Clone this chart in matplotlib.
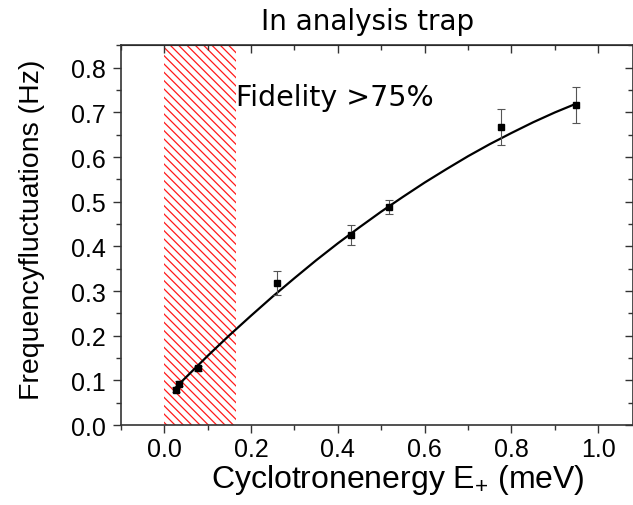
import numpy as np
import matplotlib
matplotlib.use('Agg')
import matplotlib.pyplot as plt
from matplotlib.ticker import MultipleLocator, FormatStrFormatter, NullFormatter

plt.rcParams['font.family'] = ['Liberation Sans', 'DejaVu Sans']
plt.rcParams['mathtext.fontset'] = 'custom'
plt.rcParams['mathtext.rm'] = 'Liberation Sans'
plt.rcParams['mathtext.default'] = 'regular'
plt.rcParams['hatch.linewidth'] = 0.9

# measured points
energy = [0.028, 0.033, 0.078, 0.260, 0.431, 0.518, 0.776, 0.949]
fluct = [0.079, 0.093, 0.127, 0.318, 0.425, 0.488, 0.667, 0.716]
fluct_err = [0.006, 0.006, 0.006, 0.026, 0.022, 0.016, 0.040, 0.040]

# fitted curve
fit_x = [0.025, 0.05, 0.10, 0.15, 0.20, 0.25, 0.30, 0.35, 0.40, 0.45,
         0.50, 0.55, 0.60, 0.65, 0.70, 0.75, 0.80, 0.85, 0.90, 0.95]
fit_y = [0.083, 0.107, 0.155, 0.201, 0.245, 0.288, 0.329, 0.369, 0.407, 0.443,
         0.478, 0.511, 0.543, 0.573, 0.602, 0.629, 0.654, 0.678, 0.700, 0.720]

# high fidelity window
window = (0.0, 0.166)

fig = plt.figure(figsize=(6.33, 5.06), dpi=100)
ax = fig.add_axes([0.191, 0.158, 0.809, 0.752])

ax.axvspan(window[0], window[1], facecolor='none', edgecolor='#ff1a1a',
           hatch='\\' * 4, linewidth=0, zorder=0)

ax.plot(fit_x, fit_y, color='black', lw=1.6, zorder=2)
ax.errorbar(energy, fluct, yerr=fluct_err, fmt='none', ecolor='#555555',
            elinewidth=0.8, capsize=3, capthick=0.8, zorder=3)
ax.plot(energy, fluct, 's', color='black', ms=5, zorder=4)

ax.set_xlim(-0.1, 1.08)
ax.set_ylim(0.0, 0.852)
ax.xaxis.set_major_locator(MultipleLocator(0.2))
ax.xaxis.set_minor_locator(MultipleLocator(0.1))
ax.yaxis.set_major_locator(MultipleLocator(0.1))
ax.yaxis.set_minor_locator(MultipleLocator(0.05))
ax.xaxis.set_major_formatter(FormatStrFormatter('%.1f'))
ax.yaxis.set_major_formatter(FormatStrFormatter('%.1f'))

ax.tick_params(which='both', direction='out', labelsize=18, width=1,
               color='#333333')
ax.tick_params(axis='x', which='both', pad=2.5)
ax.tick_params(axis='y', which='both', pad=5)
ax.tick_params(which='major', length=6)
ax.tick_params(which='minor', length=3.5)
for s in ax.spines.values():
    s.set_linewidth(1.2)
    s.set_color('#333333')

# top and right axes: same ticks, pointing inwards, no labels
top = ax.secondary_xaxis('top')
right = ax.secondary_yaxis('right')
for sec, step, minor in ((top.xaxis, 0.2, 0.1), (right.yaxis, 0.1, 0.05)):
    sec.set_major_locator(MultipleLocator(step))
    sec.set_minor_locator(MultipleLocator(minor))
    sec.set_major_formatter(NullFormatter())
for sec in (top, right):
    sec.tick_params(which='both', direction='in', width=1, color='#333333')
    sec.tick_params(which='major', length=6)
    sec.tick_params(which='minor', length=3.5)

ax.set_xlabel('Cyclotronenergy E$_{{+}}$ (meV)', fontsize=23)
ax.xaxis.set_label_coords(0.541, -0.097)
ax.set_ylabel('Frequencyfluctuations (Hz)', fontsize=20.5)
ax.yaxis.set_label_coords(-0.148, 0.515)
fig.text(0.580, 1 - 22 / 506, 'In analysis trap', fontsize=20,
         family='DejaVu Sans', ha='center', va='center')
ax.text(0.166, 0.735, 'Fidelity >75%', fontsize=20.5, family='DejaVu Sans',
        va='center', ha='left')

fig.savefig('out.png', dpi=100)
